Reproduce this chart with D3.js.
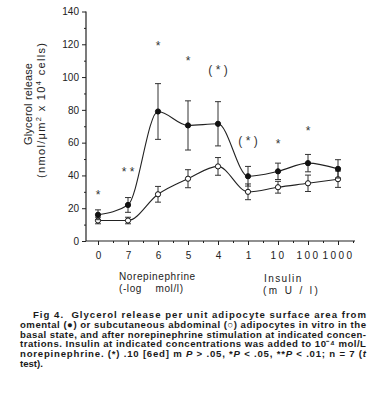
<!DOCTYPE html>
<html lang="en">
<head>
<meta charset="UTF-8">
<title>Fig 4</title>
<script src="https://cdn.jsdelivr.net/npm/d3@7"></script>
<style>
    body { margin: 0; background: #fff; }
    svg { font-family: "Liberation Sans", Arial, sans-serif; }
    .axis text { font-size: 10px; fill: #222; }
    .axis line, .axis path { stroke: #222; }
    .caption { font-size: 9.6px; font-weight: bold; fill: #1a1a1a; }
</style>
</head>
<body>
<svg width="370" height="400"></svg>
<script>
    // data
    var categories = ["0", "7", "6", "5", "4", "1", "10", "100", "1000"];
    var omental = [16, 22, 79, 70.5, 71.5, 39.5, 42.5, 47.5, 44];
    var omentalErr = [3, 4.5, 17, 15, 13.5, 6, 5, 5.3, 5.6];
    var subcut = [12.5, 12.5, 28.5, 38, 45.5, 30, 32.8, 35.2, 37.7];
    var subcutErr = [2, 2, 4.8, 5.5, 5.4, 4.8, 3.6, 5, 5];
    var sigLabels = ["*", "* *", "*", "*", "( * )", "( * )", "*", "*", ""];
    var sigLevel = [29, 43, 120, 111, 105, 62, 60, 68, 0];
    var yTicks = [0, 20, 40, 60, 80, 100, 120, 140];

    var svg = d3.select("svg");

    var x = d3.scalePoint().domain(categories).range([98, 338]);
    var xi = d3.scaleLinear().domain([0, 8]).range([98, 338]);
    var y = d3.scaleLinear().domain([0, 140]).range([241, 11.5]);

    // y axis
    var gy = svg.append("g").attr("class", "axis")
        .attr("transform", "translate(86,0)")
        .call(d3.axisLeft(y).tickValues(yTicks).tickSize(4).tickSizeOuter(0).tickPadding(3));
    gy.select(".domain").remove();
    svg.append("g").attr("class", "axis")
        .attr("transform", "translate(86,0)")
        .call(d3.axisLeft(y).tickValues(d3.range(10, 140, 20)).tickSize(2).tickFormat(""))
        .select(".domain").remove();
    svg.append("line")
        .attr("x1", 86).attr("x2", 86)
        .attr("y1", y(0)).attr("y2", y(140))
        .attr("stroke", "#222").attr("stroke-width", 1.2);

    // x axis
    var gx = svg.append("g").attr("class", "axis")
        .attr("transform", "translate(0," + y(0) + ")")
        .call(d3.axisBottom(x).tickSize(4).tickPadding(7));
    gx.select(".domain").remove();
    gx.selectAll("text").attr("letter-spacing", function(d) { return d.length > 1 ? 2.5 : 0; });
    svg.append("g").attr("class", "axis")
        .attr("transform", "translate(0," + y(0) + ")")
        .call(d3.axisBottom(xi).tickValues(d3.range(0.5, 8.6, 1)).tickSize(2).tickFormat(""))
        .select(".domain").remove();
    svg.append("line")
        .attr("x1", 86).attr("x2", 355)
        .attr("y1", y(0)).attr("y2", y(0))
        .attr("stroke", "#222").attr("stroke-width", 1.2);

    // axis titles
    svg.append("text")
        .attr("transform", "translate(32,104) rotate(-90)")
        .attr("text-anchor", "middle")
        .attr("font-size", 11).attr("fill", "#222")
        .attr("textLength", 82).attr("lengthAdjust", "spacing")
        .text("Glycerol release");
    var yt2 = svg.append("text")
        .attr("transform", "translate(45,110.5) rotate(-90)")
        .attr("text-anchor", "middle")
        .attr("font-size", 11).attr("fill", "#222")
        .attr("textLength", 135).attr("lengthAdjust", "spacing");
    yt2.append("tspan").text("(nmol/\u03bcm");
    yt2.append("tspan").attr("font-size", 7.5).attr("dy", -4).text("2");
    yt2.append("tspan").attr("dy", 4).text(" x 10");
    yt2.append("tspan").attr("font-size", 7.5).attr("dy", -4).text("4");
    yt2.append("tspan").attr("dy", 4).text(" cells)");

    var xt = svg.append("g").attr("font-size", 10).attr("fill", "#222").attr("letter-spacing", 0.6);
    xt.append("text").attr("x", 119).attr("y", 280).text("Norepinephrine");
    xt.append("text").attr("x", 119).attr("y", 292).attr("xml:space", "preserve").text("(-log    mol/l)");
    xt.append("text").attr("x", 264).attr("y", 282).attr("letter-spacing", 1.4).text("Insulin");
    xt.append("text").attr("x", 263).attr("y", 294).attr("letter-spacing", 2.4).text("(m U / l)");

    // curves
    var line = d3.line()
        .x(function(d, i) { return xi(i); })
        .y(function(d) { return y(d); })
        .curve(d3.curveMonotoneX);

    function series(vals, errs, filled) {
        var g = svg.append("g");
        g.append("path").attr("d", line(vals))
            .attr("fill", "none").attr("stroke", "#222").attr("stroke-width", 1.1);
        var eb = g.selectAll(".eb").data(vals).enter().append("g");
        eb.append("line")
            .attr("x1", function(d, i) { return xi(i); })
            .attr("x2", function(d, i) { return xi(i); })
            .attr("y1", function(d, i) { return y(d + errs[i]); })
            .attr("y2", function(d, i) { return y(d - errs[i]); })
            .attr("stroke", "#333").attr("stroke-width", 1);
        [1, -1].forEach(function(s) {
            eb.append("line")
                .attr("x1", function(d, i) { return xi(i) - 3; })
                .attr("x2", function(d, i) { return xi(i) + 3; })
                .attr("y1", function(d, i) { return y(d + s * errs[i]); })
                .attr("y2", function(d, i) { return y(d + s * errs[i]); })
                .attr("stroke", "#333").attr("stroke-width", 1);
        });
        g.selectAll("circle").data(vals).enter().append("circle")
            .attr("cx", function(d, i) { return xi(i); })
            .attr("cy", function(d) { return y(d); })
            .attr("r", 2.6)
            .attr("fill", filled ? "#111" : "#fff")
            .attr("stroke", "#111").attr("stroke-width", 1);
    }
    series(subcut, subcutErr, false);
    series(omental, omentalErr, true);

    // significance marks
    svg.append("g").selectAll("text").data(sigLabels).enter().append("text")
        .attr("x", function(d, i) { return xi(i); })
        .attr("y", function(d, i) { return y(sigLevel[i]) + 5.5; })
        .attr("text-anchor", "middle")
        .attr("font-size", 12).attr("fill", "#333")
        .attr("xml:space", "preserve")
        .text(function(d) { return d; });

    // caption
    var cap = svg.append("g").attr("class", "caption");
    var capLines = [
        {x: 33, w: 333, t: "Fig 4.  Glycerol release per unit adipocyte surface area from"},
        {x: 20, w: 346, t: "omental (\u25cf) or subcutaneous abdominal (\u25cb) adipocytes in vitro in the"},
        {x: 20, w: 346, t: "basal state, and after norepinephrine stimulation at indicated concen-"},
        {x: 20, w: 346, t: "trations. Insulin at indicated concentrations was added to 10\u207b\u2074 mol/L"},
        {x: 20, w: 346, t: "norepinephrine. (*) .10 [6ed] m P > .05, *P < .05, **P < .01; n = 7 (t"},
        {x: 20, w: 0, t: "test)."}
    ];
    capLines.forEach(function(l, i) {
        var t = cap.append("text").attr("x", l.x).attr("y", 318 + i * 9.8).attr("xml:space", "preserve");
        if (l.w) t.attr("textLength", l.w).attr("lengthAdjust", "spacing");
        var parts = l.t.split(/(P|\(t$)/);
        parts.forEach(function(p) {
            if (p === "P") t.append("tspan").attr("font-style", "italic").text("P");
            else if (p === "(t") { t.append("tspan").text("("); t.append("tspan").attr("font-style", "italic").text("t"); }
            else if (p) t.append("tspan").text(p);
        });
    });
</script>
</body>
</html>
